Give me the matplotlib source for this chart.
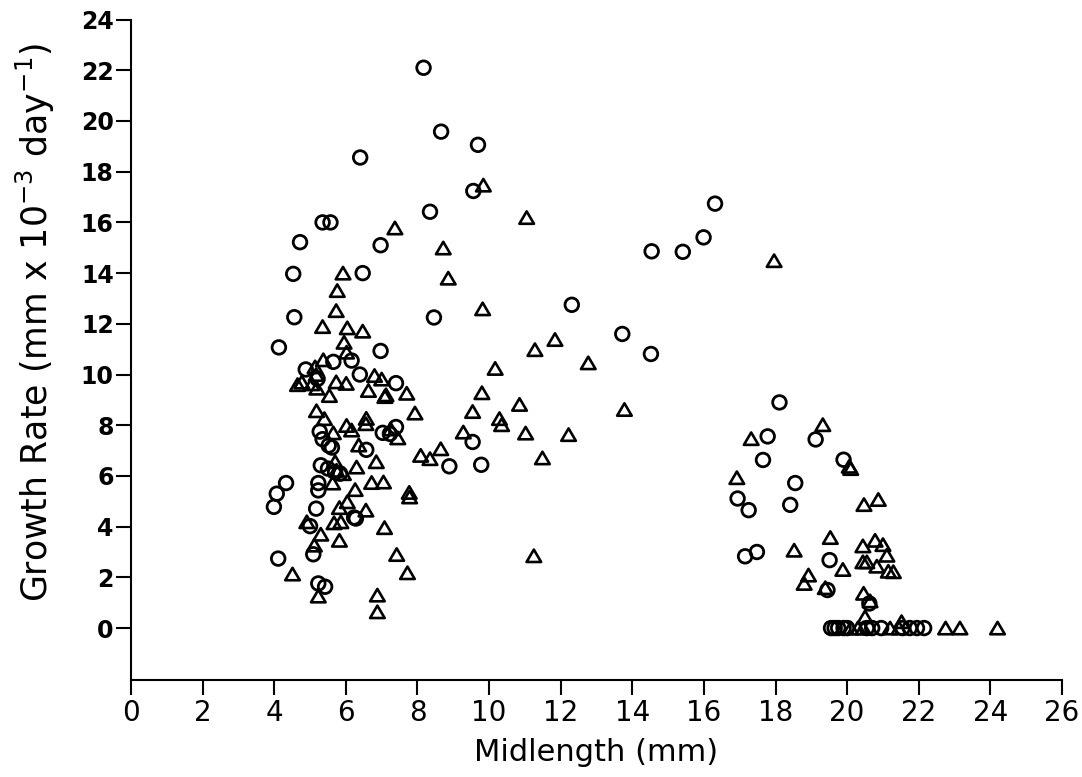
import matplotlib
matplotlib.use("Agg")
import matplotlib.pyplot as plt
from matplotlib.path import Path

# ---------------- data ----------------
circle_x = [8.17, 8.66, 9.69, 6.40, 9.56, 8.35, 5.35, 5.57, 14.54, 15.41, 15.99, 16.31,
            4.72, 6.97, 4.53, 6.47, 4.56, 8.46, 12.31, 13.72, 14.52, 4.13, 6.97, 5.65,
            6.16, 4.88, 5.21, 6.39, 7.40, 5.27, 7.03, 7.23, 7.40, 5.35, 5.52, 5.61,
            6.57, 9.54, 8.89, 9.78, 5.30, 5.50, 5.70, 5.84, 4.33, 4.07, 3.99, 5.23,
            5.23, 5.17, 6.23, 6.28, 5.00, 5.09, 4.11, 5.23, 5.42,
            18.11, 17.78, 19.12, 17.65, 19.90, 18.55, 18.41, 16.94, 17.25, 17.15, 17.48,
            19.51, 19.45, 20.62,
            19.55, 19.65, 19.75, 19.90, 20.00, 20.55, 20.70, 20.95, 21.55, 21.75, 21.95, 22.15]
circle_y = [22.10, 19.58, 19.06, 18.56, 17.24, 16.42, 16.00, 16.00, 14.86, 14.84, 15.41, 16.74,
            15.22, 15.10, 13.97, 14.00, 12.26, 12.25, 12.75, 11.60, 10.81, 11.07, 10.93, 10.50,
            10.55, 10.20, 9.83, 10.00, 9.66, 7.75, 7.70, 7.66, 7.93, 7.45, 7.20, 7.12,
            7.03, 7.34, 6.38, 6.44, 6.42, 6.29, 6.15, 6.09, 5.72, 5.30, 4.78, 5.72,
            5.43, 4.71, 4.36, 4.32, 4.02, 2.91, 2.74, 1.76, 1.63,
            8.90, 7.56, 7.44, 6.63, 6.64, 5.72, 4.86, 5.11, 4.65, 2.83, 3.00,
            2.68, 1.50, 0.97,
            0.00, 0.00, 0.00, 0.00, 0.00, 0.00, 0.00, 0.00, 0.00, 0.00, 0.00, 0.00]

triangle_x = [9.84, 11.05, 7.37, 8.72, 8.86, 17.96, 5.92, 5.76, 5.73, 9.82, 5.35, 6.04,
              6.47, 5.95, 6.02, 11.84, 11.28, 12.77, 10.17, 5.37, 5.14, 5.17, 4.65, 4.77,
              5.05, 5.19, 6.80, 7.00, 5.73, 6.01, 5.54, 6.63, 7.09, 7.12, 7.70, 9.80,
              5.18, 5.40, 7.93, 9.54, 10.85, 10.29, 10.35, 13.78, 6.02, 6.16, 6.57, 6.56,
              5.65, 7.25, 7.45, 9.28, 11.02, 12.22, 6.36, 8.65, 8.09, 8.35, 11.49, 6.85,
              5.70, 5.74, 5.93, 6.30, 6.72, 7.05, 7.77, 7.78, 5.63, 6.26, 6.04, 5.82,
              6.56, 5.67, 5.86, 4.91, 7.08, 5.30, 5.82, 5.12, 7.42, 11.25, 7.72, 4.51,
              5.23, 6.88, 6.88,
              19.32, 17.32, 20.06, 20.10, 16.92, 20.47, 20.87, 19.53, 18.52, 20.44, 20.78,
              21.00, 21.11, 20.44, 20.55, 20.83, 21.15, 21.29, 19.88, 18.92, 18.80, 19.39,
              20.46, 20.64, 20.50, 21.52,
              20.10, 20.30, 20.45, 21.20, 21.45, 22.75, 23.15, 24.20]
triangle_y = [17.47, 16.19, 15.78, 14.99, 13.80, 14.49, 14.00, 13.31, 12.52, 12.59, 11.89, 11.84,
              11.71, 11.27, 10.88, 11.38, 10.98, 10.46, 10.24, 10.58, 10.30, 10.00, 9.60, 9.70,
              9.63, 9.46, 9.96, 9.82, 9.71, 9.65, 9.17, 9.37, 9.13, 9.20, 9.26, 9.28,
              8.57, 8.26, 8.48, 8.54, 8.82, 8.26, 8.02, 8.62, 7.99, 7.81, 8.27, 8.06,
              7.70, 7.85, 7.50, 7.73, 7.69, 7.63, 7.22, 7.07, 6.81, 6.68, 6.71, 6.56,
              6.56, 6.22, 6.09, 6.35, 5.74, 5.76, 5.35, 5.17, 5.72, 5.46, 4.98, 4.75,
              4.65, 4.15, 4.19, 4.19, 3.96, 3.70, 3.46, 3.27, 2.90, 2.85, 2.18, 2.13,
              1.26, 1.30, 0.64,
              8.02, 7.47, 6.38, 6.29, 5.93, 4.87, 5.07, 3.57, 3.07, 3.24, 3.46,
              3.29, 2.87, 2.61, 2.61, 2.44, 2.24, 2.22, 2.31, 2.09, 1.76, 1.59,
              1.37, 1.07, 0.44, 0.25,
              0.00, 0.00, 0.00, 0.00, 0.00, 0.00, 0.00, 0.00]

x_ticks = list(range(0, 27, 2))
y_ticks = list(range(0, 25, 2))
x_label = "Midlength (mm)"
y_label = r"Growth Rate (mm x 10$^{-3}$ day$^{-1}$)"

# ---------------- figure ----------------
plt.rcParams["mathtext.default"] = "regular"
fig = plt.figure(figsize=(10.82, 7.77), dpi=100)
ax = fig.add_axes([0.1211, 0.1248, 0.8604, 0.8500])

tri = Path([(0, 0.85), (-1, -0.85), (1, -0.85), (0, 0.85)], closed=True)

ax.scatter(circle_x, circle_y, s=9.8 ** 2, marker="o", facecolors="none",
           edgecolors="black", linewidths=2.0, zorder=3)
ax.scatter(triangle_x, triangle_y, s=10.5 ** 2, marker=tri, facecolors="none",
           edgecolors="black", linewidths=1.9, zorder=3)

ax.set_xlim(0, 26)
ax.set_ylim(-2.05, 24)
ax.set_xticks(x_ticks)
ax.set_yticks(y_ticks)

for s in ("top", "right"):
    ax.spines[s].set_visible(False)
for s in ("left", "bottom"):
    ax.spines[s].set_linewidth(1.5)

ax.tick_params(axis="both", direction="out", length=10.5, width=1.5, color="black")
ax.tick_params(axis="y", pad=2)
ax.tick_params(axis="x", pad=3)

for lab in ax.get_yticklabels():
    lab.set_fontfamily(["DejaVu Sans"])
    lab.set_fontweight("bold")
    lab.set_fontsize(17)
for lab in ax.get_xticklabels():
    lab.set_fontfamily(["DejaVu Sans"])
    lab.set_fontsize(20)

ax.set_xlabel(x_label, fontsize=22, family=["DejaVu Sans"])
ax.xaxis.set_label_coords(0.5, -0.109)
ax.xaxis.label.set_va("center")
ax.set_ylabel(y_label, fontsize=25, family=["DejaVu Sans"])
ax.yaxis.set_label_coords(-0.103, 0.542)
ax.yaxis.label.set_va("center")

fig.savefig("out.png", dpi=100)
